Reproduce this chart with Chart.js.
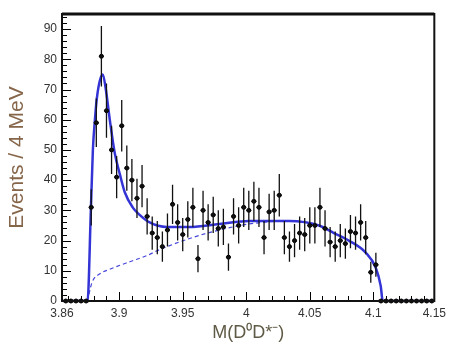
<!DOCTYPE html>
<html>
<head>
<meta charset="utf-8">
<script src="https://cdn.jsdelivr.net/npm/chart.js@4"></script>
<style>
  html, body { margin: 0; padding: 0; background: #fff; }
  #chart { display: block; }
</style>
</head>
<body>
<canvas id="chart" width="451" height="345"></canvas>
<script>
// 4 MeV bin centres of M(D0 D*-) in GeV
var binMass = [
  3.858, 3.862, 3.866, 3.870, 3.874,
  3.878, 3.882, 3.886, 3.890, 3.894, 3.898, 3.902, 3.906, 3.910, 3.914,
  3.918, 3.922, 3.926, 3.930, 3.934, 3.938, 3.942, 3.946, 3.950, 3.954,
  3.958, 3.962, 3.966, 3.970, 3.974, 3.978, 3.982, 3.986, 3.990, 3.994,
  3.998, 4.002, 4.006, 4.010, 4.014, 4.018, 4.022, 4.026, 4.030, 4.034,
  4.038, 4.042, 4.046, 4.050, 4.054, 4.058, 4.062, 4.066, 4.070, 4.074,
  4.078, 4.082, 4.086, 4.090, 4.094, 4.098, 4.102,
  4.106, 4.110, 4.114, 4.118, 4.122, 4.126, 4.130, 4.134, 4.138, 4.142, 4.146
];
// events per bin
var events = [
  0, 0, 0, 0, 0,
  31, 59, 81, 63, 50, 41, 58, 44, 40, 34,
  38, 28, 22.5, 21, 18, 23.5, 32, 26, 22, 27,
  31, 14, 30, 26, 28.5, 24, 24.5, 14.5, 28, 25,
  31, 30, 33, 31, 21, 29.5, 30, 35, 21, 18,
  20, 22.5, 22, 25, 25, 31, 24, 19.5, 18, 20,
  19, 23, 22.5, 26, 21, 9.5, 12,
  0, 0, 0, 0, 0, 0, 0, 0, 0, 0, 0
];
// vertical error per bin
var eventErr = [
  0, 0, 0, 0, 0,
  6, 8, 10, 9, 8, 7, 8.5, 7.5, 7, 6.5,
  7, 6, 5.5, 5.5, 5, 5.5, 6.5, 6, 5.5, 6,
  6.5, 4.5, 6.5, 6, 6, 6, 6, 4.5, 6, 6,
  6.5, 6.5, 6.5, 6.5, 5.5, 6, 6.5, 7, 5.5, 5,
  5.5, 5.5, 5.5, 6, 6, 6.5, 6, 5, 5, 5.5,
  5, 5.5, 5.5, 6, 5.5, 3.5, 4,
  0, 0, 0, 0, 0, 0, 0, 0, 0, 0, 0
];

// total fit (solid) and background (dashed), sampled from the plot
var fitMass = [3.855, 3.8751, 3.8777, 3.8793, 3.8809, 3.8824, 3.8848, 3.8871, 3.8895, 3.8926,
  3.8965, 3.9005, 3.9044, 3.9106, 3.9161, 3.924, 3.9373, 3.9553, 3.9788, 4.0023,
  4.0337, 4.0572, 4.069, 4.0807, 4.094, 4.1019, 4.1058, 4.1074, 4.148];
var fitTotal = [0, 0, 30, 50, 60, 67, 73, 75, 70, 60,
  49, 42, 36, 31, 28.5, 26, 24.5, 24.5, 25.5, 26.5,
  26.5, 25, 22.5, 20, 16, 11, 5, 0, 0];
var bkgMass = [3.8751, 3.8785, 3.8848, 3.8926, 3.9083, 3.9216, 3.9318, 3.9577, 3.9788, 4.0023,
  4.0337, 4.0572, 4.069, 4.0807, 4.094, 4.1019, 4.1058, 4.1074];
var bkgTotal = [0, 6, 9, 10.5, 13, 15, 17, 21, 23.5, 25.5,
  26.5, 25, 22.5, 20, 16, 11, 5, 0];

var xTickValues = [3.855, 3.9, 3.95, 4.0, 4.05, 4.1, 4.148];
var xTickLabels = ['3.86', '3.9', '3.95', '4', '4.05', '4.1', '4.15'];
var yTickValues = [0, 10, 20, 30, 40, 50, 60, 70, 80, 90];
var yTickLabels = ['0', '10', '20', '30', '40', '50', '60', '70', '80', '90'];

var fitBlue = '#3434d6';
var font = 'Liberation Sans, Arial, Helvetica, sans-serif';

// white page, ROOT style frame with inward ticks, and error bars
var rootStyle = {
  id: 'rootStyle',
  beforeDraw: function (chart) {
    var c = chart.ctx;
    c.save();
    c.fillStyle = '#fff';
    c.fillRect(0, 0, chart.width, chart.height);
    c.restore();
  },
  afterDatasetsDraw: function (chart) {
    var c = chart.ctx, xs = chart.scales.x, ys = chart.scales.y;
    c.save();
    c.strokeStyle = '#111';
    for (var i = 0; i < binMass.length; i++) {
      var px = xs.getPixelForValue(binMass[i]);
      var py = ys.getPixelForValue(events[i]);
      c.beginPath();
      c.moveTo(xs.getPixelForValue(binMass[i] - 0.002), py);
      c.lineTo(xs.getPixelForValue(binMass[i] + 0.002), py);
      if (eventErr[i] > 0) {
        c.moveTo(px, ys.getPixelForValue(events[i] - eventErr[i]));
        c.lineTo(px, ys.getPixelForValue(events[i] + eventErr[i]));
      }
      c.lineWidth = events[i] === 0 ? 2.5 : 1.3;
      c.stroke();
    }
    c.restore();
  },
  afterDraw: function (chart) {
    var c = chart.ctx, a = chart.chartArea, xs = chart.scales.x, ys = chart.scales.y;
    c.save();
    c.strokeStyle = '#000';
    c.lineWidth = 1;
    // x ticks: minor every 0.01, major every 0.05
    for (var k = 0; k <= 28; k++) {
      var v = 3.86 + k * 0.01;
      var major = Math.abs(v * 20 - Math.round(v * 20)) < 1e-6;
      var px = Math.round(xs.getPixelForValue(v)) + 0.5;
      c.beginPath();
      c.moveTo(px, a.bottom);
      c.lineTo(px, a.bottom - (major ? 9 : 5));
      c.stroke();
    }
    // y ticks: minor every 2, major every 10
    for (var j = 0; j <= 47; j++) {
      var yv = j * 2;
      var py = Math.round(ys.getPixelForValue(yv)) + 0.5;
      c.beginPath();
      c.moveTo(a.left, py);
      c.lineTo(a.left + (yv % 10 === 0 ? 9 : 5), py);
      c.stroke();
    }
    c.lineWidth = 2;
    c.strokeStyle = '#111';
    c.strokeRect(a.left, a.top, a.right - a.left, a.bottom - a.top);
    // top edge of the frame is heavier in the original
    c.lineWidth = 3;
    c.beginPath();
    c.moveTo(a.left, a.top);
    c.lineTo(a.right, a.top);
    c.stroke();
    c.restore();
  }
};

var ctx = document.getElementById('chart').getContext('2d');
var myChart = new Chart(ctx, {
  type: 'scatter',
  data: {
    datasets: [
      {
        label: 'Data',
        data: binMass.map(function (m, i) { return { x: m, y: events[i] }; }),
        pointRadius: 2,
        pointBackgroundColor: '#000',
        pointBorderColor: '#000',
        clip: false,
        order: 0
      },
      {
        type: 'line',
        label: 'Fit',
        data: fitMass.map(function (m, i) { return { x: m, y: fitTotal[i] }; }),
        borderColor: fitBlue,
        borderWidth: 2.5,
        pointRadius: 0,
        fill: false,
        cubicInterpolationMode: 'monotone',
        order: 1
      },
      {
        type: 'line',
        label: 'Background',
        data: bkgMass.map(function (m, i) { return { x: m, y: bkgTotal[i] }; }),
        borderColor: '#4646dc',
        borderWidth: 1.2,
        borderDash: [4, 3],
        pointRadius: 0,
        fill: false,
        cubicInterpolationMode: 'monotone',
        order: 2
      }
    ]
  },
  options: {
    responsive: false,
    animation: false,
    devicePixelRatio: 1,
    layout: { padding: { top: 14, right: 15, left: 0, bottom: 0 } },
    plugins: { legend: { display: false }, tooltip: { enabled: false } },
    scales: {
      x: {
        type: 'linear',
        min: 3.855,
        max: 4.148,
        afterBuildTicks: function (s) { s.ticks = xTickValues.map(function (v) { return { value: v }; }); },
        afterFit: function (s) { s.height = 44; },
        ticks: {
          autoSkip: false,
          maxRotation: 0,
          padding: 5,
          color: '#333',
          font: { family: font, size: 12 },
          callback: function (v, i) { return xTickLabels[i]; }
        },
        grid: { display: false, drawTicks: false },
        border: { display: false },
        title: {
          display: true,
          text: 'M(D⁰D*⁻)',
          color: '#5e5a45',
          font: { family: font, size: 18 },
          padding: { top: 0, bottom: 1 }
        }
      },
      y: {
        type: 'linear',
        min: 0,
        max: 95,
        afterBuildTicks: function (s) { s.ticks = yTickValues.map(function (v) { return { value: v }; }); },
        afterFit: function (s) { s.width = 62; },
        ticks: {
          autoSkip: false,
          padding: 5,
          color: '#333',
          font: { family: font, size: 12 },
          callback: function (v, i) { return yTickLabels[i]; }
        },
        grid: { display: false, drawTicks: false },
        border: { display: false },
        title: {
          display: true,
          text: 'Events / 4 MeV',
          color: '#86664a',
          font: { family: font, size: 21 },
          padding: { top: 5, bottom: 0 }
        }
      }
    }
  },
  plugins: [rootStyle]
});
</script>
</body>
</html>
